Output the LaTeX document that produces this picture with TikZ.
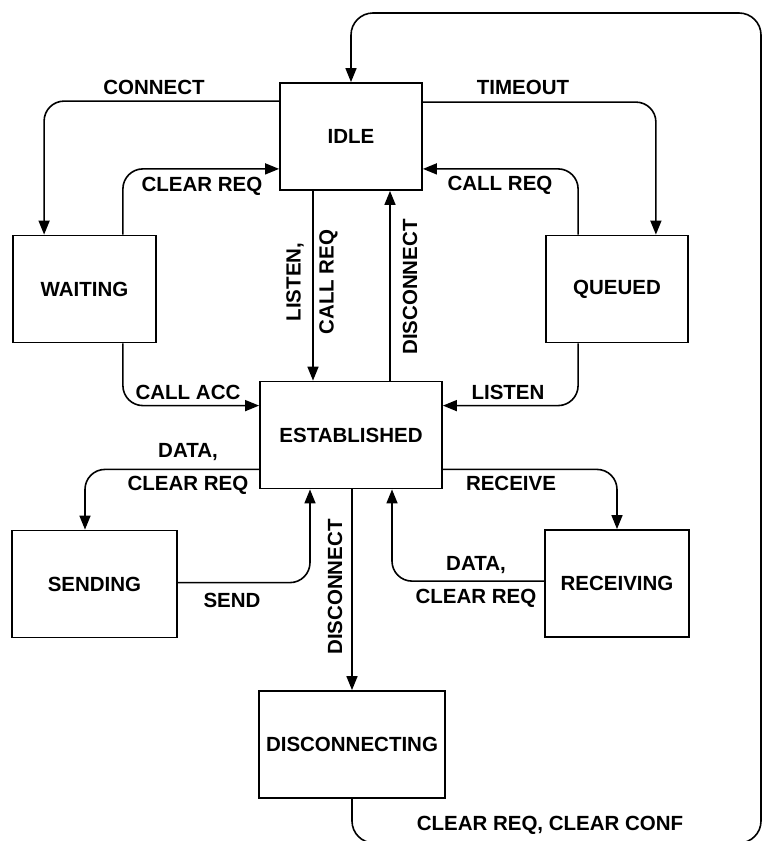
\documentclass[tikz,border=0pt]{standalone}
\usepackage{fontspec}
\setmainfont{Liberation Sans}
\usetikzlibrary{calc,positioning,arrows.meta}

\tikzset{
	state/.style={draw, line width=1.8pt, minimum height=107pt, inner sep=0pt, font=\fontsize{20.5}{24}\selectfont\bfseries},
	trans/.style={line width=1.6pt, -{Triangle[length=14pt,width=11pt]}, rounded corners=20pt},
	lbl/.style={inner sep=0pt, align=center, font=\fontsize{20.5}{33}\selectfont\bfseries},
}

\begin{document}
\begin{tikzpicture}[x=1pt, y=-1pt]
	\useasboundingbox (0,0) rectangle (764,841);

	\node (idle) [state, minimum width=142pt] at (351,136.5) {IDLE};
	\node (waiting) [state, minimum width=143pt] at (84.5,289) {WAITING};
	\node (queued) [state, minimum width=142pt] at (617,289) {QUEUED};
	\node (est) [state, minimum width=182pt] at (351,435) {ESTABLISHED};
	\node (sending) [state, minimum width=165pt] at (94.5,584) {SENDING};
	\node (receiving) [state, minimum width=144pt] at (617,583.5) {RECEIVING};
	\node (disc) [state, minimum width=186pt] at (352,744.5) {DISCONNECTING};

	\draw [trans] ([yshift=-19pt]idle.north west) -| ([xshift=32pt]waiting.north west);
	\draw [trans] ([xshift=-34pt]waiting.north east) |- ([yshift=22pt]idle.south west);
	\draw [trans] ([yshift=-20pt]idle.north east) -| ([xshift=-33pt]queued.north east);
	\draw [trans] ([xshift=33pt]queued.north west) |- ([yshift=22pt]idle.south east);
	\draw [trans] ([xshift=-38pt]idle.south) -- ([xshift=-38pt]est.north);
	\draw [trans] ([xshift=39pt]est.north) -- ([xshift=39pt]idle.south);
	\draw [trans] ([xshift=-34pt]waiting.south east) |- ([yshift=-25pt]est.north west);
	\draw [trans] ([xshift=33pt]queued.south west) |- ([yshift=-25pt]est.north east);
	\draw [trans] ([yshift=20pt]est.south west) -| ([xshift=-9.5pt]sending.north);
	\draw [trans] ([yshift=20pt]est.south east) -| (receiving.north);
	\draw [trans] ([yshift=-53pt]sending.north east) -| ([xshift=-41pt]est.south);
	\draw [trans] ([yshift=-52pt]receiving.north west) -| ([xshift=41pt]est.south);
	\draw [trans] (est.south -| disc.north) -- (disc.north);

	\coordinate (loopbr) at (761,843);
	\coordinate (looptr) at (761,13);
	\draw [trans, rounded corners=22pt] (disc.south) |- (loopbr) -- (looptr) -| (idle.north);

	\node [lbl] (lconnect) at (154,87) {CONNECT};
	\node [lbl] (lclearreq) at (202,186) {CLEAR REQ};
	\node [lbl] (ltimeout) at (523,87) {TIMEOUT};
	\node [lbl] (lcallreq) at (500,185) {CALL REQ};
	\node [lbl, rotate=90] (llisten) at (312,282) {LISTEN,\\CALL REQ};
	\node [lbl, rotate=90] (ldiscup) at (410,287) {DISCONNECT};
	\node [lbl] (lcallacc) at (188,392) {CALL ACC};
	\node [lbl] (llistenq) at (508,392) {LISTEN};
	\node [lbl] (ldatas) at (188,469) {DATA,\\CLEAR REQ};
	\node [lbl] (lreceive) at (511,483) {RECEIVE};
	\node [lbl] (lsend) at (232,600) {SEND};
	\node [lbl] (ldatar) at (476,582) {DATA,\\CLEAR REQ};
	\node [lbl, rotate=90] (ldiscdown) at (335,587) {DISCONNECT};
	\node [lbl] (lclearconf) at (550,825) {CLEAR REQ, CLEAR CONF};
\end{tikzpicture}
\end{document}
